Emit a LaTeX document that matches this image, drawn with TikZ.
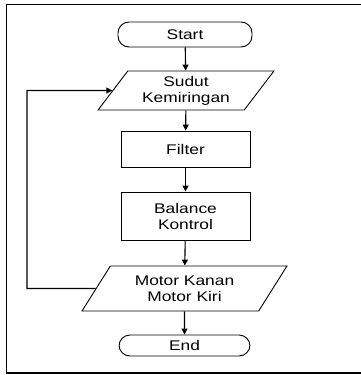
\documentclass[tikz,border=0pt]{standalone}
\usepackage{fontspec}
\setmainfont{Liberation Sans}[FakeStretch=1.24]
\usetikzlibrary{shapes.geometric,arrows.meta,positioning}

\tikzset{
  flowline/.style={line width=1.1pt, -{Triangle[length=6pt,width=6pt]}},
  terminal/.style={draw, line width=0.9pt, rectangle, rounded corners=11pt, align=center},
  process/.style={draw, line width=0.9pt, rectangle, align=center},
  inout/.style={draw, line width=0.9pt, trapezium, trapezium stretches=true, align=center}
}

\begin{document}
\begin{tikzpicture}[x=1pt,y=-1pt, font=\fontsize{14}{16}\selectfont]
    % Page frame
    \useasboundingbox (0,0) rectangle (361,375);
    \draw[line width=1.6pt] (361,4.5) -- (6.5,4.5) -- (6.5,373) -- (361,373);

    % Flowchart nodes
    \node[terminal, minimum width=134pt, minimum height=25pt] (start) at (185,34.5) {Start};
    \node[inout, trapezium left angle=56, trapezium right angle=124,
          minimum width=176pt, minimum height=39pt] (sudut) at (186,90.5) {Sudut\\Kemiringan};
    \node[process, minimum width=129pt, minimum height=36pt] (filter) at (185.5,149) {Filter};
    \node[process, minimum width=129pt, minimum height=48pt] (balance) at (185.5,216) {Balance\\Kontrol};
    \node[inout, trapezium left angle=58, trapezium right angle=122,
          minimum width=205pt, minimum height=45pt] (motor) at (184.5,288.5) {Motor Kanan\\Motor Kiri};
    \node[terminal, minimum width=131pt, minimum height=21pt] (end) at (184.5,345.5) {End};

    % Connectors
    \draw[flowline] (start) -- (sudut);
    \draw[flowline] (sudut) -- (filter);
    \draw[flowline] (filter) -- (balance);
    \draw[flowline] (balance) -- (motor);
    \draw[flowline] (motor) -- (end);

    % Feedback loop
    \coordinate (bend) at (27,90.5);
    \draw[flowline] (motor.west) -| (bend) -- (sudut.west);
\end{tikzpicture}
\end{document}
